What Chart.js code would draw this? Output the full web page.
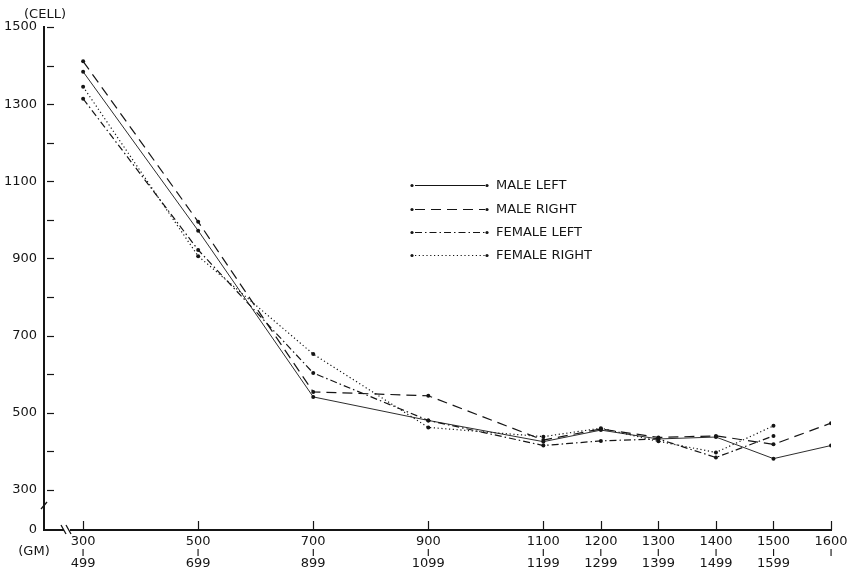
<!DOCTYPE html>
<html>
<head>
<meta charset="utf-8">
<script src="https://cdn.jsdelivr.net/npm/chart.js@4.4.1/dist/chart.umd.min.js"></script>
<style>
  html, body { margin: 0; padding: 0; background: #fff; }
  #wrap { width: 857px; height: 588px; position: relative; }
</style>
</head>
<body>
<div id="wrap"><canvas id="c" width="857" height="588"></canvas></div>
<script>
// ---- data ----
const grams = [300, 500, 700, 900, 1100, 1200, 1300, 1400, 1500, 1600];
const xTickTop = ['300', '500', '700', '900', '1100', '1200', '1300', '1400', '1500', '1600'];
const xTickBottom = ['499', '699', '899', '1099', '1199', '1299', '1399', '1499', '1599', ''];
const yTickValues = [300, 500, 700, 900, 1100, 1300, 1500];
const yMinorValues = [300, 400, 500, 600, 700, 800, 900, 1000, 1100, 1200, 1300, 1400, 1500];
const yZeroLabel = '0';

const maleLeft    = [1384, 972, 541, 480, 425, 455, 432, 437, 381, 415];
const maleRight   = [1411, 995, 554, 544, 429, 458, 436, 440, 418, 473];
const femaleLeft  = [1314, 922, 603, 480, 415, 427, 432, 384, 440];
const femaleRight = [1345, 906, 652, 462, 438, 460, 426, 397, 466];

const seriesNames = ['MALE LEFT', 'MALE RIGHT', 'FEMALE LEFT', 'FEMALE RIGHT'];

// axis break: bottom of y axis (labelled 0) sits at this value
const Y_BREAK_MIN = 196;
const X_MIN = 232;

const INK = '#151515';
const FONT = 'DejaVu Sans';

function pts(vals) { return vals.map((v, i) => ({ x: grams[i], y: v })); }

const dashes = [[], [10, 6], [7, 3, 1.5, 3], [1.2, 2.6]];
const seriesVals = [maleLeft, maleRight, femaleLeft, femaleRight];

const datasets = seriesVals.map((vals, i) => ({
  label: seriesNames[i],
  data: pts(vals),
  borderColor: INK,
  borderWidth: i === 0 ? 0.9 : 1.2,
  borderDash: dashes[i],
  pointRadius: 2,
  pointHoverRadius: 2,
  pointBackgroundColor: INK,
  pointBorderWidth: 0,
  fill: false,
  tension: 0
}));

const decorPlugin = {
  id: 'decor',
  afterDraw(chart) {
    const ctx = chart.ctx;
    const ca = chart.chartArea;
    const xs = chart.scales.x, ys = chart.scales.y;
    ctx.save();
    ctx.strokeStyle = INK;
    ctx.fillStyle = INK;
    // inner tick marks on y axis
    ctx.lineWidth = 1.2;
    yMinorValues.forEach(v => {
      const py = Math.round(ys.getPixelForValue(v)) + 0.5;
      ctx.beginPath(); ctx.moveTo(ca.left + 3, py); ctx.lineTo(ca.left + 10, py); ctx.stroke();
    });
    // inner tick marks on x axis
    grams.forEach(g => {
      const px = Math.round(xs.getPixelForValue(g)) + 0.5;
      ctx.beginPath(); ctx.moveTo(px, ca.bottom - 9); ctx.lineTo(px, ca.bottom); ctx.stroke();
    });
    // y axis break
    ctx.lineWidth = 1.3;
    ctx.beginPath();
    ctx.moveTo(ca.left - 3, ca.bottom - 21);
    ctx.lineTo(ca.left + 3, ca.bottom - 28);
    ctx.stroke();
    // x axis break
    ctx.fillStyle = '#fff';
    ctx.fillRect(ca.left + 20, ca.bottom - 2, 6, 4);
    ctx.fillStyle = INK;
    ctx.beginPath();
    ctx.moveTo(ca.left + 17, ca.bottom - 5); ctx.lineTo(ca.left + 22, ca.bottom + 4);
    ctx.moveTo(ca.left + 22, ca.bottom - 5); ctx.lineTo(ca.left + 27, ca.bottom + 4);
    ctx.stroke();
    // axis captions
    ctx.font = '13px ' + FONT;
    ctx.textAlign = 'center';
    ctx.textBaseline = 'middle';
    ctx.fillText('(CELL)', 45, 15);
    ctx.fillText('(GM)', 34, 552);
    // legend
    const lx0 = 412, lx1 = 487, ltx = 496;
    const rows = [185, 209, 232, 255];
    datasets.forEach((d, i) => {
      const y = rows[i];
      ctx.lineWidth = 1.1;
      ctx.setLineDash(d.borderDash);
      ctx.beginPath(); ctx.moveTo(lx0 + 3, y + 0.5); ctx.lineTo(lx1 - 2, y + 0.5); ctx.stroke();
      ctx.setLineDash([]);
      [lx0, lx1].forEach(x => { ctx.beginPath(); ctx.arc(x, y + 0.5, 1.6, 0, Math.PI * 2); ctx.fill(); });
      ctx.textAlign = 'left';
      ctx.fillText(d.label, ltx, y + 1);
    });
    ctx.restore();
  }
};

new Chart(document.getElementById('c'), {
  type: 'line',
  data: { datasets },
  options: {
    responsive: false,
    animation: false,
    events: [],
    layout: { padding: { top: 27, right: 26, left: 0, bottom: 0 } },
    plugins: { legend: { display: false }, tooltip: { enabled: false } },
    scales: {
      x: {
        type: 'linear',
        min: X_MIN,
        max: 1600,
        afterBuildTicks(s) { s.ticks = grams.map(v => ({ value: v })); },
        afterFit(s) { s.height = 58; },
        grid: { display: true, drawOnChartArea: false, drawTicks: false },
        border: { display: true, width: 2, color: INK },
        ticks: {
          autoSkip: false,
          maxRotation: 0,
          minRotation: 0,
          padding: 6,
          color: INK,
          font: { family: FONT, size: 13, lineHeight: 0.85 },
          callback(v) {
            const i = grams.indexOf(v);
            if (i < 0) return '';
            return xTickBottom[i] ? [xTickTop[i], 'ı', xTickBottom[i]] : [xTickTop[i], 'ı'];
          }
        }
      },
      y: {
        type: 'linear',
        min: Y_BREAK_MIN,
        max: 1500,
        afterBuildTicks(s) { s.ticks = [Y_BREAK_MIN].concat(yTickValues).map(v => ({ value: v })); },
        afterFit(s) { s.width = 44; },
        grid: { display: true, drawOnChartArea: false, drawTicks: false },
        border: { display: true, width: 2, color: INK },
        ticks: {
          autoSkip: false,
          padding: 7,
          color: INK,
          font: { family: FONT, size: 13 },
          callback(v) { return v === Y_BREAK_MIN ? yZeroLabel : String(v); }
        }
      }
    }
  },
  plugins: [decorPlugin]
});
</script>
</body>
</html>
